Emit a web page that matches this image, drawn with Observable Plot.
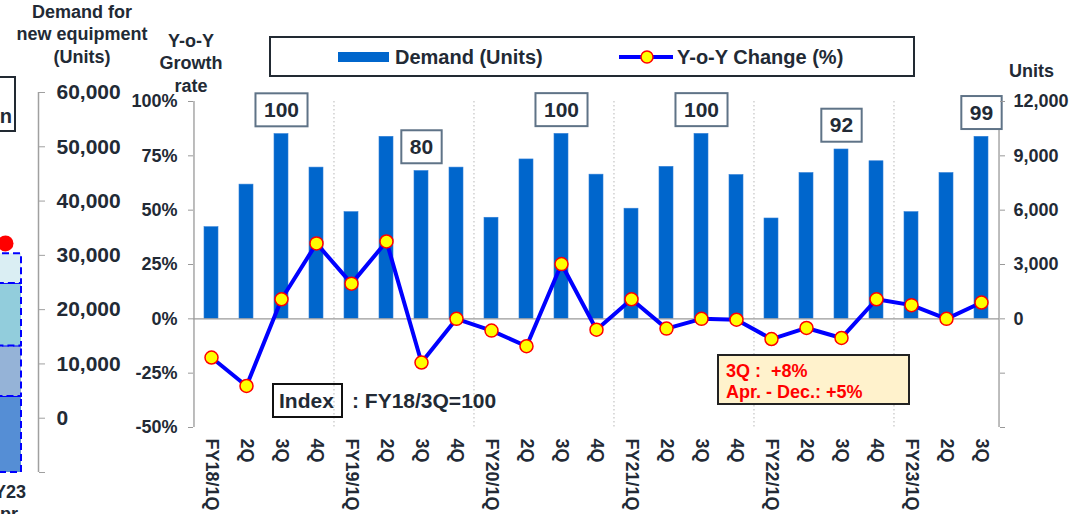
<!DOCTYPE html>
<html><head><meta charset="utf-8">
<script src="https://cdn.jsdelivr.net/npm/d3@7"></script>
<script src="https://cdn.jsdelivr.net/npm/@observablehq/plot@0.6"></script>
<style>
html,body{margin:0;padding:0;background:#fff;}
#root{position:relative;width:1073px;height:514px;overflow:hidden;font-family:"Liberation Sans",Arial,sans-serif;color:#222a35;}
#root svg{position:absolute;left:0;top:0;}
.abs{position:absolute;white-space:pre;font-weight:bold;}
</style></head><body><div id="root"></div>
<script>
// ---- main chart data ----
const quarters = ["FY18/1Q","FY18/2Q","FY18/3Q","FY18/4Q","FY19/1Q","FY19/2Q","FY19/3Q","FY19/4Q","FY20/1Q","FY20/2Q","FY20/3Q","FY20/4Q","FY21/1Q","FY21/2Q","FY21/3Q","FY21/4Q","FY22/1Q","FY22/2Q","FY22/3Q","FY22/4Q","FY23/1Q","FY23/2Q","FY23/3Q"];
const xLabels = ["FY18/1Q","2Q","3Q","4Q","FY19/1Q","2Q","3Q","4Q","FY20/1Q","2Q","3Q","4Q","FY21/1Q","2Q","3Q","4Q","FY22/1Q","2Q","3Q","4Q","FY23/1Q","2Q","3Q"];
const demandUnits = [5060,7410,10200,8350,5890,10050,8160,8350,5580,8800,10210,7960,6080,8390,10210,7940,5540,8050,9350,8700,5890,8050,10050];
const yoyChange = [-17.8,-30.9,9.0,34.7,16.2,35.6,-20.1,0.0,-5.4,-12.6,25.2,-5.0,9.0,-4.5,0.0,-0.4,-9.3,-4.2,-8.8,9.0,6.3,0.0,7.5];
const indexQuarters = ["FY18/3Q","FY19/3Q","FY20/3Q","FY21/3Q","FY22/3Q","FY23/3Q"];
const indexValues = [100,80,100,100,92,99];
const fyStarts = ["FY19/1Q","FY20/1Q","FY21/1Q","FY22/1Q","FY23/1Q"];
const pctTicks = [-50,-25,0,25,50,75,100];
const unitTicks = [-6000,-3000,0,3000,6000,9000,12000];
const unitsAt100 = 12000; // right axis value aligned with 100% on the left axis

// ---- cropped left chart data ----
const leftCats = ["FY23"];
const leftSegments = ["s1","s2","s3","s4"];
const leftSegLow = [-10000,4000,13300,24800];
const leftSegHigh = [4000,13300,24800,30300];
const leftSegColors = ["#558ed5","#95b3d7","#92cddc","#daeef3"];
const leftDotValue = 32200;
const leftTicks = [-10000,0,10000,20000,30000,40000,50000,60000];

const toPct = u => u * 100 / unitsAt100;
const rows = quarters.map((q, i) => ({q, units: demandUnits[i], yoy: yoyChange[i]}));
const idxRows = indexQuarters.map((q, i) => ({q, idx: indexValues[i], units: demandUnits[quarters.indexOf(q)]}));

const W = 1073, H = 514, mL = 193, mR = 74;
const halfStep = (W - mL - mR) / quarters.length / 2;
const dark = "#222a35";
const font = "'Liberation Sans', Arial, sans-serif";

const main = Plot.plot({
  width: W, height: H,
  marginLeft: mL, marginRight: mR, marginTop: 101, marginBottom: 87,
  style: {fontFamily: font, background: "white"},
  x: {type: "band", domain: quarters, paddingInner: 0.6, paddingOuter: 0.3},
  y: {domain: [-50, 100]},
  marks: [
    Plot.ruleX(fyStarts, {dx: -halfStep, stroke: "#b8b8b8", strokeDasharray: "1.5,2.5"}),
    Plot.ruleX([quarters[0]], {dx: -halfStep, stroke: "#999", strokeWidth: 1.3}),
    Plot.ruleX([quarters[quarters.length - 1]], {dx: halfStep, stroke: "#999", strokeWidth: 1.3}),
    Plot.barY(rows, {x: "q", y: d => toPct(d.units), fill: "#0066cc", stroke: "#2f7fd8", strokeWidth: 0.6}),
    Plot.ruleY([0], {stroke: "#9a9a9a", strokeWidth: 1.3}),
    Plot.line(rows, {x: "q", y: "yoy", stroke: "#0000ff", strokeWidth: 4}),
    Plot.dot(rows, {x: "q", y: "yoy", r: 6.5, fill: "#ffff00", stroke: "#ff0000", strokeWidth: 1.5}),
    Plot.text(idxRows, {x: "q", y: d => toPct(d.units), text: d => String(d.idx), dy: -24,
      fontSize: 21, fontWeight: "bold", fill: dark, className: "idxlabel"}),
    Plot.axisY({anchor: "left", ticks: pctTicks, tickFormat: d => d + "%", tickSize: 5, tickPadding: 11,
      fontSize: 18, fontWeight: "bold", stroke: "#999", fill: dark, label: null}),
    Plot.axisY({anchor: "right", ticks: unitTicks.map(toPct),
      tickFormat: d => { const u = Math.round(d * unitsAt100 / 100); return u >= 0 ? d3.format(",")(u) : ""; },
      tickSize: 5, tickPadding: 9, fontSize: 18, fontWeight: "bold", stroke: "#999", fill: dark, label: null}),
    Plot.axisX({anchor: "bottom", tickRotate: 90, tickSize: 0, tickPadding: 11,
      tickFormat: d => xLabels[quarters.indexOf(d)], fontSize: 18, fontWeight: "bold", fill: dark, label: null})
  ]
});

const leftW = 140;
const leftChart = Plot.plot({
  width: leftW, height: H,
  marginLeft: 0, marginRight: 102, marginTop: 92, marginBottom: 42,
  style: {fontFamily: font, background: "transparent"},
  x: {type: "band", domain: leftCats, range: [-31, 41], padding: 0, axis: null},
  y: {domain: [-10000, 60000]},
  color: {domain: leftSegments, range: leftSegColors},
  marks: [
    Plot.barY(leftSegments.map((s, i) => ({cat: leftCats[0], s, lo: leftSegLow[i], hi: leftSegHigh[i]})),
      {x: "cat", y1: "lo", y2: "hi", fill: "s", insetRight: 20, stroke: "#0000ff", strokeWidth: 2, strokeDasharray: "7,4"}),
    Plot.dot([{cat: leftCats[0], v: leftDotValue}], {x: "cat", y: "v", r: 8, fill: "#ff0000"}),
    Plot.ruleX(leftCats, {dx: 33, stroke: "#a0a0a0", strokeWidth: 1.5}),
    Plot.axisY({anchor: "right", ticks: leftTicks, tickFormat: d => d >= 0 ? d3.format(",")(d) : "",
      tickSize: 6, tickPadding: 12, textAnchor: "start", fontSize: 21, fontWeight: "bold",
      stroke: "#a0a0a0", fill: dark, label: null})
  ]
});

const root = document.getElementById("root");
root.appendChild(main);
root.appendChild(leftChart);

// boxes behind index labels
const NS = "http://www.w3.org/2000/svg";
main.querySelectorAll(".idxlabel text").forEach(t => {
  const b = t.getBBox();
  const r = document.createElementNS(NS, "rect");
  const w = b.width + 17, h = 33;
  r.setAttribute("x", b.x + b.width / 2 - w / 2);
  r.setAttribute("y", b.y + b.height / 2 - h / 2 + 0.5);
  r.setAttribute("width", w);
  r.setAttribute("height", h);
  r.setAttribute("fill", "white");
  r.setAttribute("stroke", "#5f7387");
  r.setAttribute("stroke-width", 2);
  if (t.getAttribute("transform")) r.setAttribute("transform", t.getAttribute("transform"));
  t.parentNode.insertBefore(r, t);
});

// HTML annotations
function add(html, css) {
  const d = document.createElement("div");
  d.className = "abs";
  d.innerHTML = html;
  Object.assign(d.style, css);
  root.appendChild(d);
  return d;
}
add("Demand for\nnew equipment\n(Units)", {left: "12px", top: "0.5px", width: "140px", textAlign: "center", fontSize: "18px", lineHeight: "22.5px"});
add("Y-o-Y\nGrowth\nrate", {left: "131px", top: "29.5px", width: "120px", textAlign: "center", fontSize: "18px", lineHeight: "22.5px"});
add("Units", {left: "1009px", top: "59.5px", fontSize: "18px", lineHeight: "22.5px"});

// legend
add("", {left: "269px", top: "36px", width: "646px", height: "41px", boxSizing: "border-box", border: "2px solid #222a33", background: "white"});
add("", {left: "338px", top: "52px", width: "51px", height: "10px", background: "#0066cc"});
add("Demand (Units)", {left: "395px", top: "47px", fontSize: "20px", lineHeight: "20px"});
add('<svg width="54" height="14" style="position:static;display:block"><line x1="0" y1="7" x2="54" y2="7" stroke="#0000ff" stroke-width="4"/><circle cx="28" cy="7" r="6" fill="#ffff00" stroke="#ff0000" stroke-width="1.5"/></svg>', {left: "619px", top: "50px"});
add("Y-o-Y Change (%)", {left: "677px", top: "47px", fontSize: "20px", lineHeight: "20px"});

// index note
add("", {left: "272px", top: "383px", width: "71px", height: "35px", boxSizing: "border-box", border: "2px solid #111"});
add("Index", {left: "279px", top: "390px", fontSize: "21px", lineHeight: "21px"});
add(": FY18/3Q=100", {left: "352px", top: "390px", fontSize: "21px", lineHeight: "21px"});

// growth note
add("", {left: "717px", top: "354px", width: "193px", height: "51px", boxSizing: "border-box", border: "2px solid #222", background: "#fff2cc"});
add("3Q :  +8%", {left: "726px", top: "361.5px", fontSize: "18px", lineHeight: "18px", color: "#ff0000"});
add("Apr. - Dec.: +5%", {left: "726px", top: "383px", fontSize: "18px", lineHeight: "18px", color: "#ff0000"});

// cropped left chart texts
add("", {left: "-100px", top: "76px", width: "116px", height: "56px", boxSizing: "border-box", border: "2px solid #222a33"});
add("Production", {left: "-100px", top: "106px", width: "112px", textAlign: "right", fontSize: "20px", lineHeight: "20px"});
add("FY23\nApr.", {left: "-45.5px", top: "480.5px", width: "100px", textAlign: "center", fontSize: "18px", lineHeight: "22.5px"});
</script></body></html>
